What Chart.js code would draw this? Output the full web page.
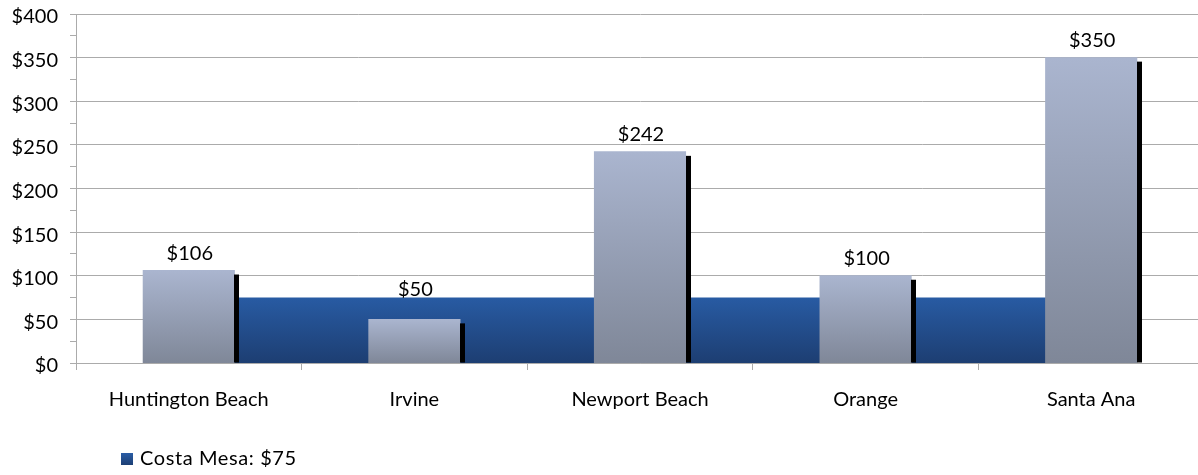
<!DOCTYPE html>
<html>
<head>
<meta charset="utf-8">
<script src="https://cdn.jsdelivr.net/npm/chart.js@4.4.1/dist/chart.umd.min.js"></script>
<style>
  html, body { margin: 0; padding: 0; background: #fff; overflow: hidden; }
  .caja { position: relative; width: 1210px; height: 475px; }
</style>
</head>
<body>
<div class="caja"><canvas id="grafica"></canvas></div>
<script>
const ciudades = ['Huntington Beach', 'Irvine', 'Newport Beach', 'Orange', 'Santa Ana'];
const costos = [106, 50, 242, 100, 350];
const costaMesa = [75, 75, 75, 75, 75];
const costaMesaLabel = 'Costa Mesa: $75';
const yMin = 0;
const yMax = 400;
const yPaso = 25; // menores cada 25, etiquetas cada 50

const fuente = 'Lato, "Open Sans", sans-serif';
const gris = '#ABABAB';

// degradado vertical desde el valor hasta el cero
function degradado(chart, valor, arriba, abajo) {
    const escala = chart.scales.y;
    const y1 = escala.getPixelForValue(valor);
    const y0 = escala.getPixelForValue(0);
    const g = chart.ctx.createLinearGradient(0, y1, 0, y0);
    g.addColorStop(0, arriba);
    g.addColorStop(1, abajo);
    return g;
}

// sombra negra a la derecha de cada barra + etiqueta con el valor
const sombras = {
    id: 'sombras',
    afterDatasetsDraw(chart) {
        const ctx = chart.ctx;
        const barras = chart.getDatasetMeta(0);
        const area = chart.getDatasetMeta(1);
        ctx.save();
        barras.data.forEach((bar, i) => {
            const {x, y, base, width} = bar.getProps(['x', 'y', 'base', 'width'], true);
            ctx.fillStyle = '#000';
            ctx.fillRect(Math.round(x + width / 2), y + 4, 5, base - y - 4);

            let abajo = y - 10;
            const yArea = area.data[i].y;
            if (y > yArea) abajo = Math.min(abajo, yArea - 1);
            ctx.fillStyle = '#000';
            ctx.font = '20px ' + fuente;
            ctx.textAlign = 'center';
            ctx.textBaseline = 'bottom';
            ctx.fillText('$' + costos[i], x + 1, abajo + 3);
        });
        ctx.restore();
    }
};

// leyenda abajo a la izquierda
const leyenda = {
    id: 'leyenda',
    afterDraw(chart) {
        const ctx = chart.ctx;
        ctx.save();
        const g = ctx.createLinearGradient(0, 453, 0, 465);
        g.addColorStop(0, '#2A5DA6');
        g.addColorStop(1, '#1D3F74');
        ctx.fillStyle = g;
        ctx.fillRect(121, 453, 12, 12);
        ctx.fillStyle = '#000';
        ctx.font = '20px ' + fuente;
        ctx.letterSpacing = '0.6px';
        ctx.textAlign = 'left';
        ctx.textBaseline = 'middle';
        ctx.fillText(chart.data.datasets[1].label, 140, 459);
        ctx.restore();
    }
};

const ctx = document.getElementById('grafica');
new Chart(ctx, {
    type: 'bar',
    data: {
        labels: ciudades,
        datasets: [{
            label: 'Ciudades',
            data: costos,
            order: 1,
            backgroundColor(c) {
                if (!c.chart.chartArea || c.type !== 'data') return '#A9B4CD';
                return degradado(c.chart, c.raw, '#AAB5CF', '#7F8798');
            },
            borderWidth: 0,
            inflateAmount: 0.5,
            categoryPercentage: 1,
            barPercentage: 0.404
        }, {
            type: 'line',
            label: costaMesaLabel,
            data: costaMesa,
            order: 2,
            fill: 'origin',
            backgroundColor(c) {
                if (!c.chart.chartArea) return '#24539A';
                return degradado(c.chart, costaMesa[0], '#285BA3', '#1D3E72');
            },
            borderWidth: 0,
            pointRadius: 0,
            tension: 0
        }]
    },
    options: {
        responsive: true,
        maintainAspectRatio: false,
        animation: false,
        events: [],
        layout: { padding: { top: 14, right: 6, left: 0, bottom: 0 } },
        plugins: {
            legend: { display: false },
            tooltip: { enabled: false }
        },
        scales: {
            x: {
                offset: true,
                afterFit(scale) { scale.height = 112; },
                grid: {
                    display: true,
                    drawOnChartArea: false,
                    offset: true,
                    tickLength: 7,
                    color: gris
                },
                border: { color: gris },
                ticks: {
                    color: '#000',
                    font: { family: fuente, size: 20 },
                    padding: 18,
                    maxRotation: 0
                }
            },
            y: {
                min: yMin,
                max: yMax,
                afterFit(scale) {
                    scale.width = 76;
                    scale.paddingTop = 0;
                    scale.paddingBottom = 0;
                },
                grid: {
                    color: (c) => c.tick && c.tick.value % 50 === 0 ? gris : 'rgba(0,0,0,0)',
                    tickColor: gris,
                    tickLength: 6
                },
                border: { color: gris },
                ticks: {
                    stepSize: yPaso,
                    color: '#000',
                    font: { family: fuente, size: 20 },
                    padding: 12,
                    labelOffset: 3,
                    autoSkip: false,
                    callback: (v) => v % 50 === 0 ? '$' + v : ''
                }
            }
        }
    },
    plugins: [sombras, leyenda]
});
</script>
</body>
</html>
